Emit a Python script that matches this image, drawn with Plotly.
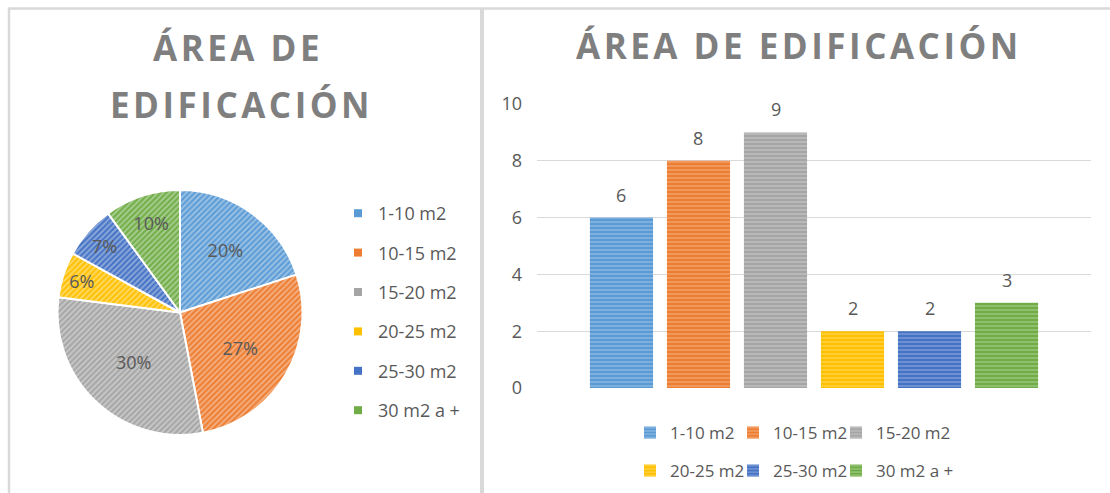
import plotly.graph_objects as go

categories = ["1-10 m2", "10-15 m2", "15-20 m2", "20-25 m2", "25-30 m2", "30 m2 a +"]
pie_percent = [20, 27, 30, 6, 7, 10]
bar_values = [6, 8, 9, 2, 2, 3]
y_ticks = [0, 2, 4, 6, 8, 10]
title_line1 = "ÁREA DE"
title_line2 = "EDIFICACIÓN"
title_text = "ÁREA DE EDIFICACIÓN"

colors = ["#5B9BD5", "#ED7D31", "#A5A5A5", "#FFC000", "#4472C4", "#70AD47"]
TXT = "#595959"
TITLE_C = "#7F7F7F"
FONT = "Open Sans"
W, H = 1110, 493


def px(x):
    return x / W


def py(y):
    return 1 - y / H


def spaced(s):
    return "\u200a".join(list(s))


fig = go.Figure()

# Pie
fig.add_trace(go.Pie(
    labels=categories, values=pie_percent, sort=False, direction="clockwise",
    rotation=0,
    marker=dict(colors=colors, line=dict(color="white", width=2),
                pattern=dict(shape="/", fillmode="overlay", fgcolor="rgba(255,255,255,0.75)",
                             size=4, solidity=0.5)),
    texttemplate="%{percent:.0%}", textposition="inside", insidetextorientation="horizontal",
    textfont=dict(family=FONT, size=18, color=TXT),
    domain=dict(x=[px(57), px(303)], y=[py(435), py(190)]),
    showlegend=False, hoverinfo="skip",
))

# Pie legend entries (one group each for spacing)
for i, (cat, col) in enumerate(zip(categories, colors)):
    fig.add_trace(go.Scatter(
        x=[None], y=[None], mode="markers", name=cat,
        marker=dict(symbol="square", size=8, color=col),
        legend="legend", legendgroup=f"p{i}", showlegend=True, hoverinfo="skip",
    ))

# Bars, each with its own legend entry box
legend_pos = []
for i in range(6):
    legend_pos.append((640 + 103 * (i % 3), 433 if i < 3 else 471))

for i, (cat, val, col) in enumerate(zip(categories, bar_values, colors)):
    fig.add_trace(go.Bar(
        x=[cat], y=[val], name=cat, width=0.82,
        marker=dict(color=col, line=dict(width=0),
                    pattern=dict(shape="-", fillmode="overlay", fgcolor="rgba(255,255,255,0.6)",
                                 size=4, solidity=0.35)),
        legend=f"legend{i + 2}", hoverinfo="skip",
    ))
    fig.add_annotation(x=cat, y=val, xref="x", yref="y", text=str(val), showarrow=False,
                       yshift=23, yanchor="middle",
                       font=dict(family=FONT, size=18, color=TXT))

# Titles
tfont = dict(family=FONT, size=35, color=TITLE_C, weight="bold")
fig.add_annotation(x=px(236), y=py(47), xref="paper", yref="paper", text=spaced(title_line1),
                   showarrow=False, xanchor="center", yanchor="middle", font=tfont)
fig.add_annotation(x=px(240), y=py(104), xref="paper", yref="paper", text=spaced(title_line2),
                   showarrow=False, xanchor="center", yanchor="middle", font=tfont)
fig.add_annotation(x=px(797), y=py(45), xref="paper", yref="paper", text=spaced(title_text),
                   showarrow=False, xanchor="center", yanchor="middle", font=tfont)

# Borders
border = dict(color="#D9D9D9", width=2.5)
fig.add_shape(type="line", xref="paper", yref="paper", x0=px(8), x1=px(1110), y0=py(8.5), y1=py(8.5), line=border)
fig.add_shape(type="line", xref="paper", yref="paper", x0=px(9), x1=px(9), y0=py(8), y1=py(493), line=border)
fig.add_shape(type="line", xref="paper", yref="paper", x0=px(482), x1=px(482), y0=py(8), y1=py(493),
              line=dict(color="#D9D9D9", width=4))

lfont = dict(family=FONT, size=18, color=TXT)
bfont = dict(family=FONT, size=17, color=TXT)
layout_legends = dict(
    legend=dict(orientation="v", x=px(346), y=py(195), xanchor="left", yanchor="top",
                font=lfont, tracegroupgap=13, bgcolor="rgba(0,0,0,0)", indentation=-8),
)
for i, (lx, ly) in enumerate(legend_pos):
    layout_legends[f"legend{i + 2}"] = dict(orientation="h", x=px(lx), y=py(ly), xanchor="left",
                                            yanchor="middle", font=bfont, bgcolor="rgba(0,0,0,0)",
                                            indentation=-10)

fig.update_layout(
    width=W, height=H, margin=dict(l=0, r=0, t=0, b=0, autoexpand=False),
    paper_bgcolor="white", plot_bgcolor="white",
    barmode="overlay",
    font=dict(family=FONT, color=TXT),
    xaxis=dict(type="category", domain=[px(537), px(1091)], range=[-1.097, 6.097],
               showticklabels=False, showgrid=False, zeroline=False, showline=False,
               categoryorder="array", categoryarray=categories),
    yaxis=dict(domain=[py(388), py(104)], range=[0, 10], tickvals=y_ticks,
               showgrid=True, gridcolor="#D9D9D9", gridwidth=1.3, zeroline=False, showline=False,
               ticklabelstandoff=14, tickfont=dict(family=FONT, size=18, color=TXT)),
    **layout_legends,
)

fig.write_html("out.html")
